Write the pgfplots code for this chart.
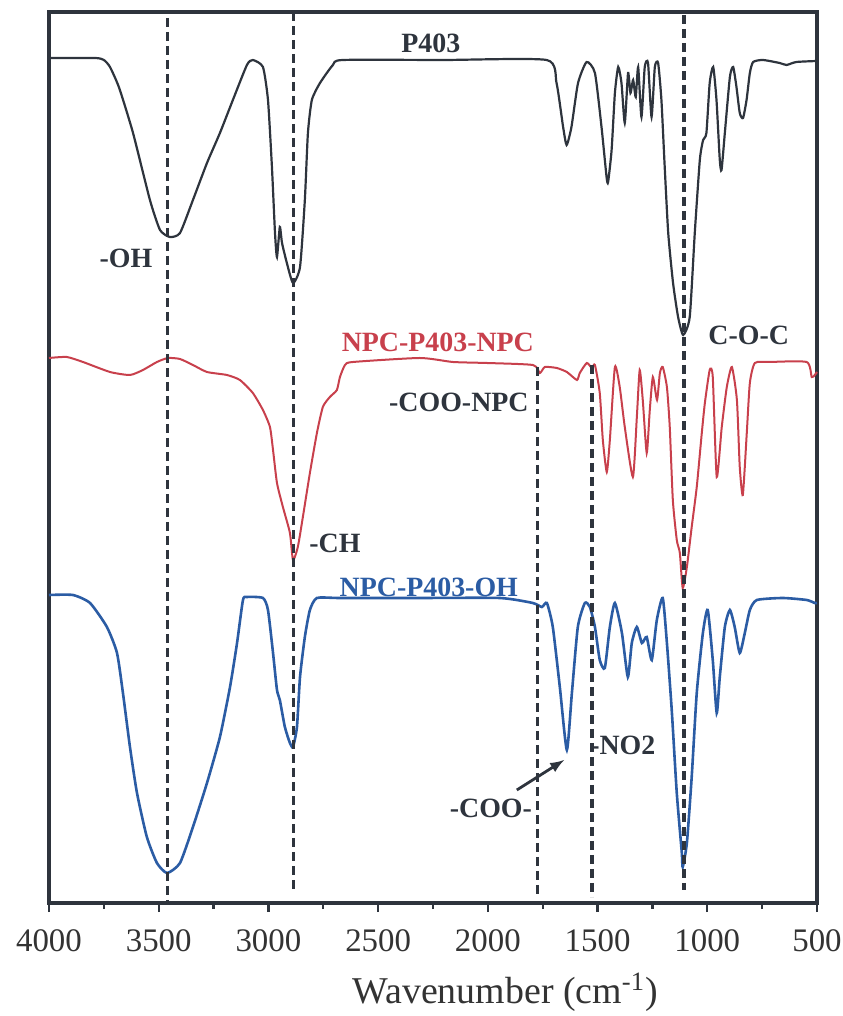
\documentclass[border=0pt]{standalone}
\usepackage{pgfplots}
\pgfplotsset{compat=1.18}
\usepackage{pgfplotstable}
\usepackage{fontspec}
\setmainfont{Liberation Serif}[BoldFont={Liberation Serif Bold}]

\definecolor{cblk}{HTML}{2E343D}
\definecolor{cred}{HTML}{C8404C}
\definecolor{cblu}{HTML}{2B5CA4}
\definecolor{ctxt}{HTML}{333333}

\pgfplotstableread{
w T
4000 845
3790 845
3750 843
3722 836
3680 815
3617 770
3540 703
3494 673
3449 666
3403 670
3344 703
3280 740
3221 770
3162 803
3098 838
3071 843
3025 836
3002 803
2984 736
2970 670
2961 646
2948 676
2938 660
2916 640
2888 620
2856 636
2834 703
2820 770
2802 803
2765 820
2706 838
2661 843
2200 843
1732 843
1687 820
1657 776
1641 758
1619 776
1589 820
1550 841
1512 830
1482 776
1459 726
1452 721
1436 753
1421 810
1406 836
1391 820
1376 780
1361 830
1350 810
1338 823
1326 806
1315 836
1300 786
1285 836
1270 840
1254 786
1239 836
1224 840
1209 803
1194 736
1178 670
1156 620
1133 586
1110 568
1080 586
1057 670
1034 743
1019 763
1004 770
989 820
973 836
958 803
943 743
935 733
920 770
897 826
882 836
867 816
852 790
837 785
821 803
806 830
791 841
746 843
670 840
639 838
594 841
500 842
}\Pfour

\pgfplotstableread{
w T
4000 545
3919 546
3845 541
3722 531
3631 528
3572 533
3508 541
3458 545
3403 544
3344 538
3280 531
3189 528
3130 523
3071 510
3025 493
2993 476
2979 453
2961 420
2934 396
2902 370
2888 343
2866 356
2843 386
2811 430
2779 470
2752 496
2720 506
2688 513
2674 526
2651 538
2615 541
2310 545
2159 541
2004 540
1795 538
1763 530
1740 536
1686 535
1640 531
1594 523
1581 530
1549 540
1526 535
1512 538
1490 510
1476 463
1458 431
1444 463
1421 536
1399 516
1376 476
1339 426
1321 486
1308 533
1294 503
1276 450
1262 493
1248 526
1229 503
1216 530
1203 536
1184 516
1171 476
1157 403
1139 363
1125 350
1112 315
1093 336
1071 376
1048 416
1025 470
1011 500
989 533
975 526
957 426
934 476
911 516
888 536
865 503
852 436
838 408
820 470
806 520
783 540
715 541
547 541
524 526
510 528
500 531
}\NPCNPC

\pgfplotstableread{
w T
4000 308
3891 308
3813 300
3736 276
3690 250
3663 210
3631 156
3599 110
3554 66
3508 40
3462 30
3403 40
3344 76
3280 120
3221 166
3175 216
3143 260
3116 303
3098 306
3025 305
3002 293
2979 250
2961 213
2948 203
2925 176
2902 160
2888 156
2870 176
2856 226
2834 266
2811 293
2779 305
2674 305
2310 305
1945 305
1795 300
1754 296
1731 300
1704 276
1672 216
1640 153
1617 210
1590 276
1558 300
1535 296
1512 276
1490 243
1467 235
1444 276
1421 300
1389 270
1362 226
1344 260
1321 276
1298 260
1276 266
1253 243
1230 283
1203 305
1184 260
1162 193
1139 110
1116 50
1112 36
1093 60
1071 126
1048 210
1020 270
998 293
975 243
957 190
943 226
920 276
897 293
875 276
852 250
829 270
806 293
774 303
656 305
547 303
510 300
500 300
}\NPCOH

\tikzset{lab/.style={font=\fontsize{14}{16}\selectfont\bfseries}}

\begin{document}
\begin{tikzpicture}
\begin{axis}[
  scale only axis,
  width=384bp, height=445.5bp,
  x dir=reverse,
  xmin=500, xmax=4000, ymin=0, ymax=891,
  xtick={500,1000,...,4000},
  xticklabels={500,1000,1500,2000,2500,3000,3500,4000},
  minor x tick num=1,
  ytick=\empty,
  xtick pos=left,
  tick align=outside,
  major tick length=4.5bp, minor tick length=3bp,
  every tick/.style={line width=1.2bp, cblk},
  axis line style={line width=1.6bp, cblk},
  /pgf/number format/assume math mode=true,
  xticklabel style={font=\fontsize{16.5}{18}\selectfont, text=ctxt, anchor=base, yshift=-19.5bp},
  xlabel={Wavenumber (cm\textsuperscript{-1})},
  xlabel style={font=\fontsize{19}{21}\selectfont, text=ctxt, at={(axis description cs:0.594,0)}, anchor=base, yshift=-50bp},
  clip=false,
]
\addplot[cblk, line width=1.1bp, smooth, tension=0.35] table[x=w, y=T] {\Pfour};
\addplot[cred, line width=1.0bp, smooth, tension=0.35] table[x=w, y=T] {\NPCNPC};
\addplot[cblu, line width=1.3bp, smooth, tension=0.35] table[x=w, y=T] {\NPCOH};

% dashed reference lines
\addplot[cblk, line width=1.8bp, dash pattern=on 4.5bp off 2.5bp] coordinates {(3460,885) (3460,0)};
\addplot[cblk, line width=1.7bp, dash pattern=on 4.5bp off 2.5bp] coordinates {(2885,891) (2885,13)};
\addplot[cblk, line width=1.6bp, dash pattern=on 4.5bp off 2.5bp] coordinates {(1775,536) (1775,6)};
\addplot[cblk, line width=2.0bp, dash pattern=on 4.5bp off 2.5bp] coordinates {(1525,538) (1525,6)};
\addplot[cblk, line width=1.9bp, dash pattern=on 4.5bp off 2.5bp] coordinates {(1107,888) (1107,13)};

% labels
\node[lab, text=cblk] at (axis cs:2260,860) {P403};
\node[lab, text=cblk] at (axis cs:3649,645) {-OH};
\node[lab, text=cred] at (axis cs:2228,561) {NPC-P403-NPC};
\node[lab, text=cblk] at (axis cs:811,568) {C-O-C};
\node[lab, text=cblk] at (axis cs:2132,501) {-COO-NPC};
\node[lab, text=cblk] at (axis cs:2697,360) {-CH};
\node[lab, text=cblu] at (axis cs:2269,316) {NPC-P403-OH};
\node[lab, text=cblk, anchor=west, inner sep=0pt] at (axis cs:1535,158) {-NO2};
\node[lab, text=cblk] at (axis cs:1986,95) {-COO-};
\draw[cblk, line width=1.4bp, -latex] (axis cs:1868,113) -- (axis cs:1652,143);
\end{axis}
\pgfresetboundingbox
\path[use as bounding box] ([shift={(-24.5bp,-56.5bp)}]current axis.south west) rectangle ([shift={(13bp,6bp)}]current axis.north east);
\end{tikzpicture}
\end{document}
